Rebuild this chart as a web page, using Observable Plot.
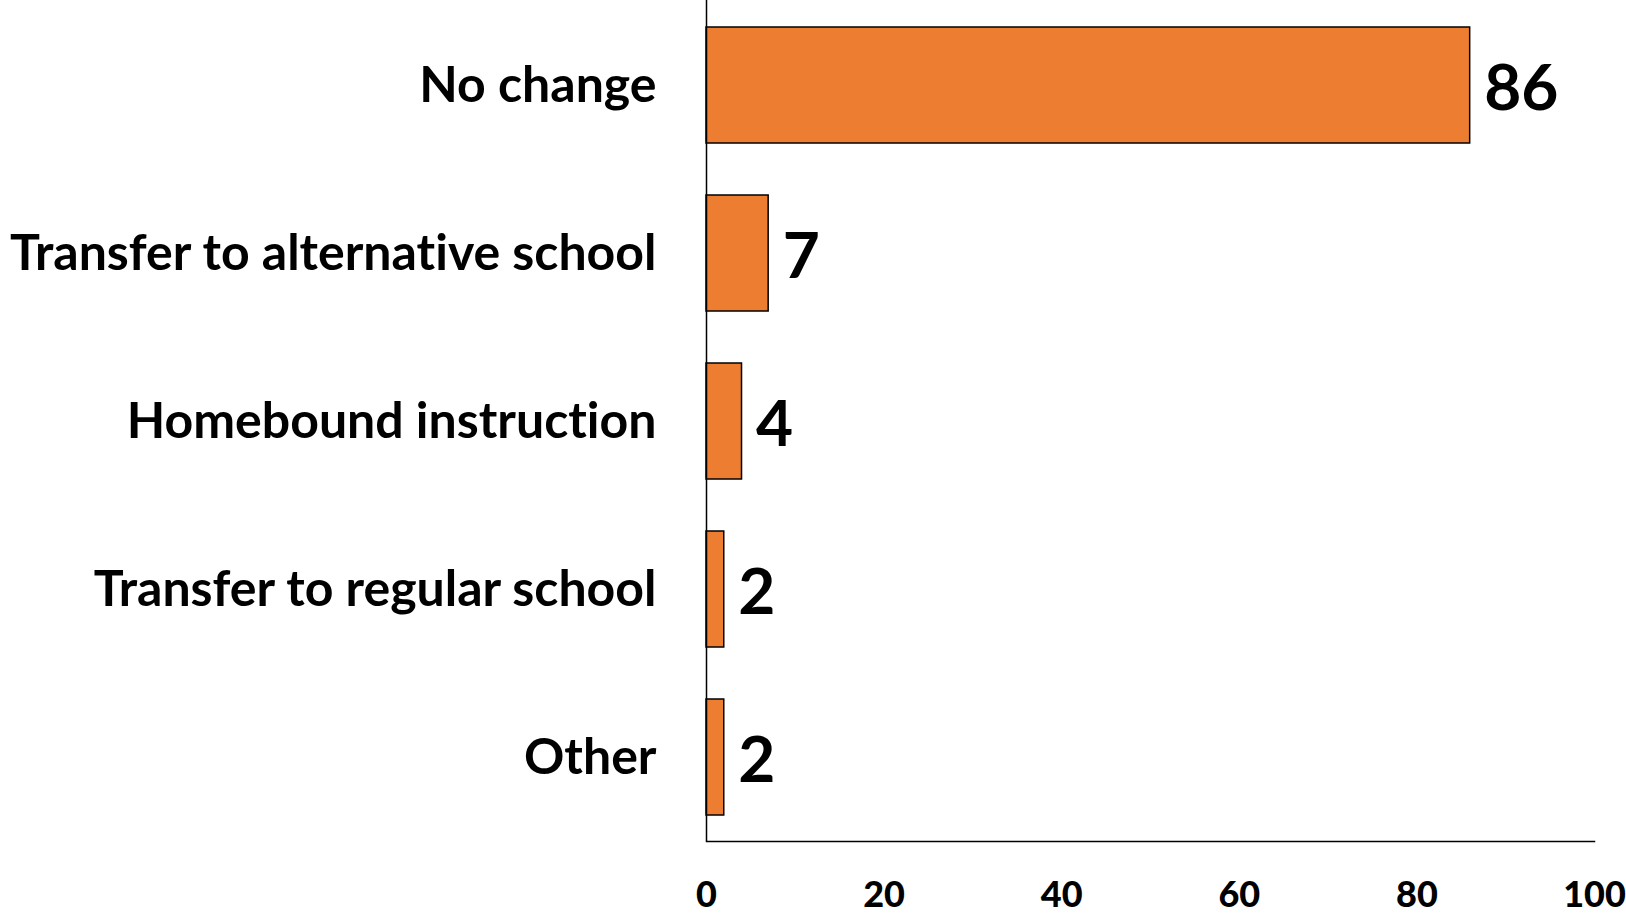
<!DOCTYPE html>
<html>
<head>
<meta charset="utf-8">
<script src="https://cdn.jsdelivr.net/npm/d3@7"></script>
<script src="https://cdn.jsdelivr.net/npm/@observablehq/plot@0.6"></script>
<style>
  html, body { margin: 0; padding: 0; background: #fff; }
  #chart svg { display: block; }
  #chart svg text { font-variant-ligatures: none; font-feature-settings: "liga" 0, "clig" 0; }
</style>
</head>
<body>
<div id="chart"></div>
<script>
const categories = ["No change", "Transfer to alternative school", "Homebound instruction", "Transfer to regular school", "Other"];
const values = [86, 7, 4, 2, 2];
const xTicks = [0, 20, 40, 60, 80, 100];

const data = categories.map((c, i) => ({category: c, value: values[i]}));
const font = "Lato, 'Open Sans', sans-serif";

const chart = Plot.plot({
  width: 1626,
  height: 914,
  marginLeft: 706,
  marginRight: 32,
  marginTop: 0,
  marginBottom: 73,
  style: {fontFamily: font, color: "#000", background: "#fff"},
  x: {domain: [0, 100], ticks: xTicks},
  y: {domain: categories, paddingInner: 0.31, paddingOuter: 0.155},
  marks: [
    Plot.barX(data, {y: "category", x: "value", fill: "#ED7D31", stroke: "#000", strokeWidth: 1.5}),
    Plot.text(data, {y: "category", x: "value", text: d => String(d.value), textAnchor: "start", dx: 14, dy: 4, fontSize: 64, fontWeight: "bold", fill: "#000"}),
    Plot.ruleX([0], {stroke: "#000", strokeWidth: 1.5}),
    Plot.frame({anchor: "bottom", stroke: "#000", strokeWidth: 1.5}),
    Plot.axisX({ticks: xTicks, tickSize: 0, tickPadding: 40, fontSize: 36, fontWeight: 900, label: null}),
    Plot.axisY({tickSize: 0, tickPadding: 50, fontSize: 50, fontWeight: "bold", label: null})
  ]
});
document.getElementById("chart").appendChild(chart);
</script>
</body>
</html>
